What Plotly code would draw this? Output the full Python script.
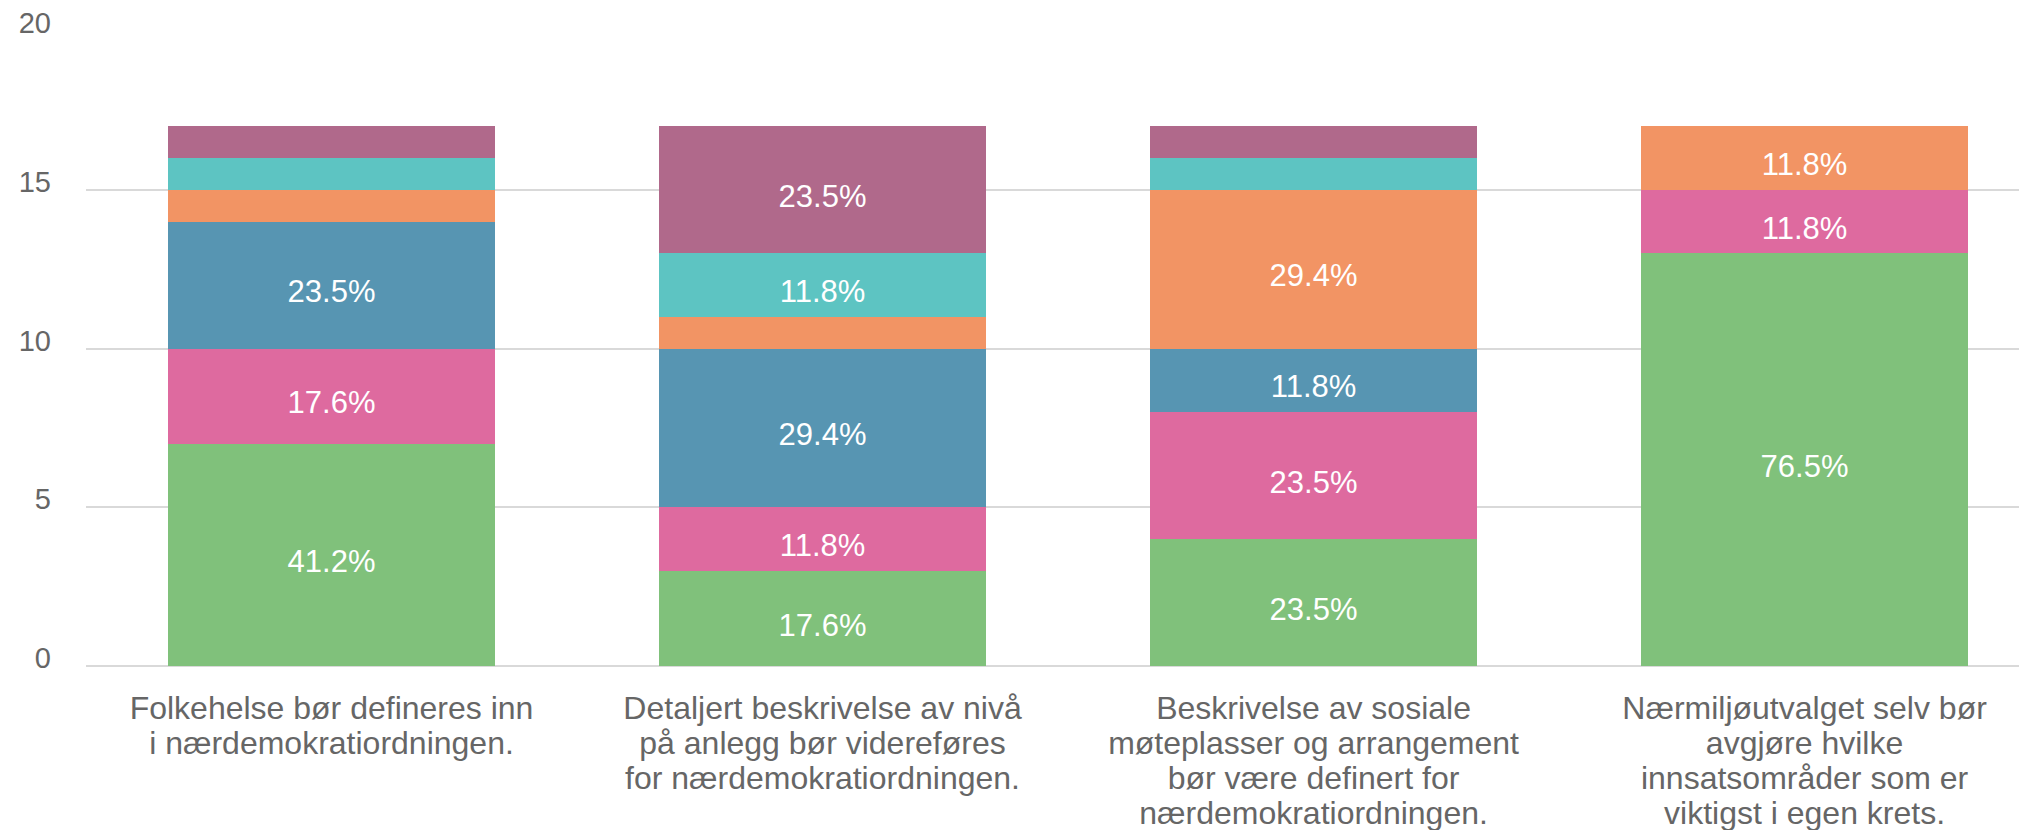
import plotly.graph_objects as go

category_lines = [
    ["Folkehelse bør defineres inn", "i nærdemokratiordningen."],
    ["Detaljert beskrivelse av nivå", "på anlegg bør videreføres", "for nærdemokratiordningen."],
    ["Beskrivelse av sosiale", "møteplasser og arrangement", "bør være definert for", "nærdemokratiordningen."],
    ["Nærmiljøutvalget selv bør", "avgjøre hvilke", "innsatsområder som er", "viktigst i egen krets."],
]

series_names = ["Serie 1", "Serie 2", "Serie 3", "Serie 4", "Serie 5", "Serie 6"]
green = [7, 3, 4, 13]
pink = [3, 2, 4, 2]
blue = [4, 5, 2, 0]
orange = [1, 1, 5, 2]
teal = [1, 2, 1, 0]
purple = [1, 4, 1, 0]
series_values = [green, pink, blue, orange, teal, purple]
colors = ["#80c17b", "#de6a9f", "#5795b2", "#f29464", "#5dc4c2", "#b0698b"]

y_ticks = [0, 5, 10, 15, 20]

FONT = "Liberation Sans, Arial, sans-serif"
totals = [sum(s[i] for s in series_values) for i in range(len(category_lines))]

# big glyphs, tighter line spacing (line spacing follows the base tick font size)
ticktext = ["<br>".join(f'<span style="font-size:32px">{ln}</span>' for ln in lines)
            for lines in category_lines]

# a tiny blank line above each value label nudges it slightly below the segment centre
PAD = '<span style="font-size:1px">&nbsp;</span><br>'

fig = go.Figure()
x_idx = list(range(len(category_lines)))
for name, vals, col in zip(series_names, series_values, colors):
    texts = [f"{PAD}{v / t * 100:.1f}%" if v >= 2 else "" for v, t in zip(vals, totals)]
    fig.add_trace(go.Bar(
        x=x_idx, y=vals, name=name, marker=dict(color=col, line=dict(width=0)),
        text=texts, textposition="inside", insidetextanchor="middle",
        textfont=dict(color="#ffffff", size=31, family=FONT),
        textangle=0, constraintext="none",
    ))

fig.update_layout(
    barmode="stack", bargap=0.333, showlegend=False,
    width=2019, height=822,
    margin=dict(l=78, r=0, t=23, b=164),
    plot_bgcolor="white", paper_bgcolor="white",
    font=dict(family=FONT, color="#666666"),
)
fig.update_xaxes(
    tickmode="array", tickvals=x_idx, ticktext=ticktext,
    range=[-0.5, 3.453], showgrid=False, showline=False, zeroline=False,
    tickfont=dict(size=27, color="#666666"), ticks="", ticklabelstandoff=25,
    automargin=False,
)
fig.update_yaxes(
    range=[0, 20], tickvals=y_ticks, showgrid=True, gridcolor="#d9d9d9", gridwidth=2,
    zeroline=True, zerolinecolor="#d9d9d9", zerolinewidth=2,
    tickfont=dict(size=29, color="#666666"), ticks="", ticklabelstandoff=34,
    ticklabelshift=-8, ticklabeloverflow="allow", automargin=False,
)

fig.write_html("out.html")
